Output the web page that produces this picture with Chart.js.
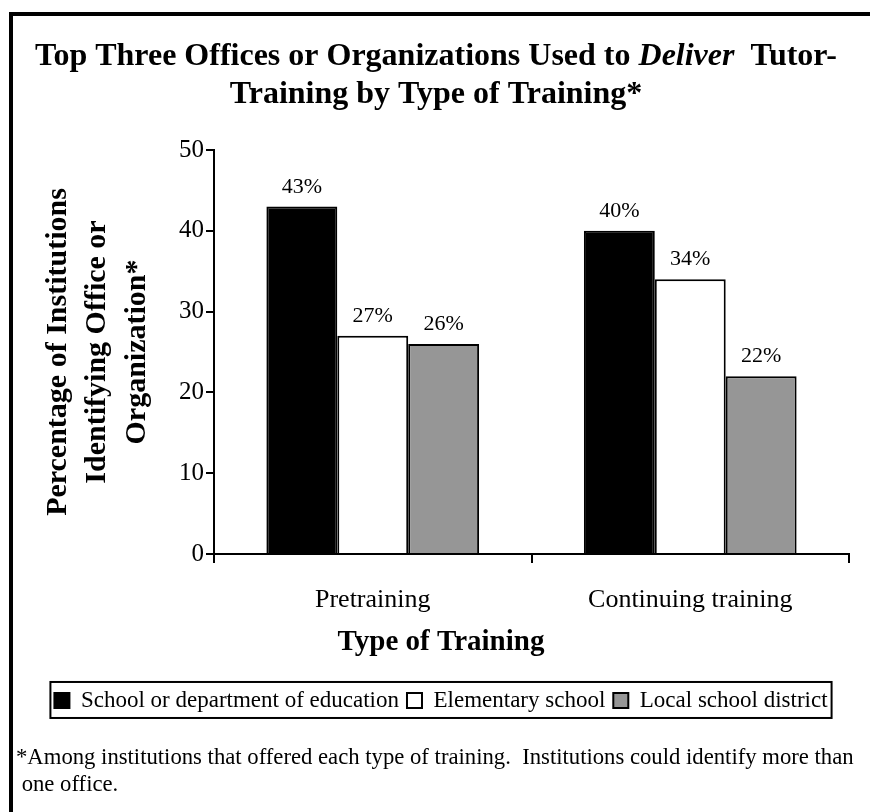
<!DOCTYPE html>
<html><head><meta charset="utf-8">
<script src="https://cdn.jsdelivr.net/npm/chart.js@4"></script>
<style>
html,body{margin:0;padding:0;background:#fff;}
#wrap{position:relative;width:870px;height:812px;overflow:hidden;}
#frame{position:absolute;left:9px;top:12px;width:1000px;height:1000px;border-left:4px solid #000;border-top:4px solid #000;pointer-events:none;}
canvas{display:block}
</style></head><body>
<div id="wrap"><canvas id="c" width="870" height="812"></canvas><div id="frame"></div></div>
<script>
const categories = ['Pretraining', 'Continuing training'];
const seriesNames = ['School or department of education', 'Elementary school', 'Local school district'];
const schoolOfEducation = [43, 40];
const elementarySchool = [27, 34];
const localSchoolDistrict = [26, 22];
const yTicks = [0, 10, 20, 30, 40, 50];
const titleLine1 = [['Top Three Offices or Organizations Used to ', false], ['Deliver', true], ['  Tutor-', false]];
const titleLine2 = 'Training by Type of Training*';
const yTitle = ['Percentage of Institutions', 'Identifying Office or', 'Organization*'];
const xTitle = 'Type of Training';
const footnote = ['*Among institutions that offered each type of training.  Institutions could identify more than', ' one office.'];

const FAM = '"Liberation Serif", "Times New Roman", serif';
Chart.defaults.font.family = FAM;
Chart.defaults.color = '#000';

const barLabels = {
  id: 'barLabels',
  afterDatasetsDraw(chart) {
    const ctx = chart.ctx;
    ctx.save();
    ctx.font = '22px ' + FAM;
    ctx.fillStyle = '#000';
    ctx.textAlign = 'center';
    ctx.textBaseline = 'alphabetic';
    chart.data.datasets.forEach((ds, i) => {
      chart.getDatasetMeta(i).data.forEach((bar, j) => {
        ctx.fillText(ds.data[j] + '%', bar.x, bar.y - 14);
      });
    });
    ctx.restore();
  }
};

const richTitle = {
  id: 'richTitle',
  afterDraw(chart) {
    const ctx = chart.ctx;
    ctx.save();
    ctx.fillStyle = '#000';
    ctx.textBaseline = 'middle';
    ctx.textAlign = 'left';
    const cx = chart.width / 2 + 1;
    const top = chart.chartArea.top;
    const fonts = titleLine1.map(([t, it]) => (it ? 'italic ' : '') + 'bold 32px ' + FAM);
    let total = 0;
    titleLine1.forEach(([t], k) => { ctx.font = fonts[k]; total += ctx.measureText(t).width; });
    let x = cx - total / 2;
    titleLine1.forEach(([t], k) => { ctx.font = fonts[k]; ctx.fillText(t, x, top - 93); x += ctx.measureText(t).width; });
    ctx.font = 'bold 32px ' + FAM;
    ctx.textAlign = 'center';
    ctx.fillText(titleLine2, cx, top - 55);
    ctx.restore();
  }
};

const legendFrame = {
  id: 'legendFrame',
  afterDraw(chart) {
    const hb = chart.legend && chart.legend.legendHitBoxes;
    if (!hb || !hb.length) return;
    const ctx = chart.ctx;
    const last = hb[hb.length - 1];
    const l = hb[0].left - 4, r = last.left + last.width + 4;
    const t = hb[0].top - 7, b = hb[0].top + hb[0].height + 6;
    ctx.save();
    ctx.strokeStyle = '#000';
    ctx.lineWidth = 2;
    ctx.strokeRect(l, t, r - l, b - t);
    ctx.restore();
  }
};

const common = { borderColor: '#000', borderWidth: 2, categoryPercentage: 0.67, barPercentage: 1.0 };

new Chart(document.getElementById('c'), {
  type: 'bar',
  data: {
    labels: categories,
    datasets: [
      Object.assign({ label: seriesNames[0], data: schoolOfEducation, backgroundColor: '#000' }, common),
      Object.assign({ label: seriesNames[1], data: elementarySchool, backgroundColor: '#fff' }, common),
      Object.assign({ label: seriesNames[2], data: localSchoolDistrict, backgroundColor: '#969696' }, common)
    ]
  },
  options: {
    responsive: false,
    animation: false,
    devicePixelRatio: 1,
    layout: { padding: { top: 150, left: 16, right: 4, bottom: 0 } },
    plugins: {
      tooltip: { enabled: false },
      title: {
        display: true, position: 'bottom', weight: 500, text: xTitle,
        font: { size: 29, weight: 'bold', lineHeight: 1.2 }, color: '#000',
        padding: { top: -11.4, bottom: 20.6 }
      },
      legend: {
        position: 'bottom',
        labels: { font: { size: 23 }, color: '#000', boxWidth: 15, boxHeight: 15, padding: 8 }
      },
      subtitle: {
        display: true, position: 'bottom', align: 'start', text: footnote,
        font: { size: 22.7, lineHeight: 1.19 }, color: '#000',
        padding: { top: 22.5, bottom: 13.5 }
      }
    },
    scales: {
      x: {
        grid: { display: true, drawOnChartArea: false, drawTicks: true, tickLength: 9, color: '#000', lineWidth: 2, offset: true },
        border: { display: true, color: '#000', width: 2 },
        ticks: { font: { size: 26, lineHeight: 1.2 }, color: '#000', padding: 21.4 },
        title: { display: false }
      },
      y: {
        min: 0, max: 50,
        afterBuildTicks: (s) => { s.ticks = yTicks.map(v => ({ value: v })); },
        ticks: { font: { size: 25 }, color: '#000', padding: 2 },
        grid: { drawOnChartArea: false, drawTicks: true, tickLength: 8, color: '#000', lineWidth: 2 },
        border: { display: true, color: '#000', width: 2 },
        title: { display: true, text: yTitle, font: { size: 30, weight: 'bold', lineHeight: 1.32 }, color: '#000', padding: { top: 22.2, bottom: 20 } }
      },
      y2: {
        position: 'right', display: true,
        grid: { display: false }, ticks: { display: false }, border: { display: false },
        afterFit: (s) => { s.width = 17; }
      }
    }
  },
  plugins: [barLabels, richTitle, legendFrame]
});
</script>
</body></html>
